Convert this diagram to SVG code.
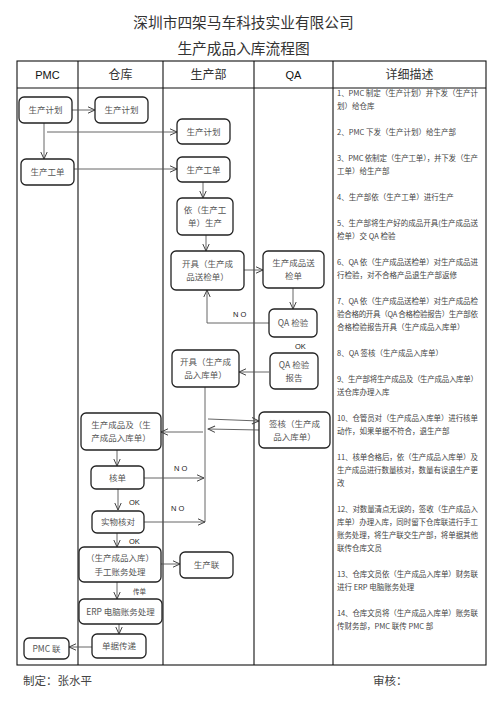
<svg xmlns="http://www.w3.org/2000/svg" width="496" height="702" viewBox="0 0 496 702">
<defs>
<marker id="arr" viewBox="0 0 8 8" refX="7.5" refY="4" markerWidth="8" markerHeight="8" markerUnits="userSpaceOnUse" orient="auto">
<path d="M0.5,0.8 L7.5,4 L0.5,7.2" fill="none" stroke="#444" stroke-width="1"/>
</marker>
</defs>
<style>
text{font-family:"Noto Sans CJK SC","Liberation Sans",sans-serif;}
.title{font-size:14.7px;fill:#333;text-anchor:middle;}
.hdr{font-size:12px;fill:#333;text-anchor:middle;}
.hdrl{font-size:11px;fill:#111;text-anchor:middle;font-family:"Liberation Sans",sans-serif;}
.grid{stroke:#111;stroke-width:1.1;fill:none;}
.box{fill:#fff;stroke:#222;stroke-width:1.3;}
.nt{font-size:8.5px;fill:#555;text-anchor:middle;}
.desc{font-size:7.5px;fill:#444;}
.lbl{font-size:7.5px;fill:#222;font-family:"Liberation Sans",sans-serif;}
.conn{stroke:#555;stroke-width:0.9;fill:none;}
.foot{font-size:11.5px;fill:#444;}
</style>
<text class="title" x="243.5" y="28">深圳市四架马车科技实业有限公司</text>
<text class="title" x="243.5" y="54">生产成品入库流程图</text>
<g id="table">
<rect class="grid" x="17" y="61" width="469" height="604"/>
<line class="grid" x1="17" y1="88" x2="486" y2="88"/>
<line class="grid" x1="78" y1="61" x2="78" y2="665"/>
<line class="grid" x1="163" y1="61" x2="163" y2="665"/>
<line class="grid" x1="254" y1="61" x2="254" y2="665"/>
<line class="grid" x1="333" y1="61" x2="333" y2="665"/>
<text class="hdrl" x="47.5" y="78.5">PMC</text>
<text class="hdr" x="120.5" y="79">仓库</text>
<text class="hdr" x="208.5" y="79">生产部</text>
<text class="hdrl" x="293.5" y="78.5">QA</text>
<text class="hdr" x="409.5" y="79">详细描述</text>
</g>
<g id="connectors">
<line class="conn" x1="72" y1="110" x2="95" y2="110" marker-end="url(#arr)"/>
<line class="conn" x1="44" y1="123" x2="44" y2="159" marker-end="url(#arr)"/>
<line class="conn" x1="47" y1="132" x2="177" y2="132" marker-end="url(#arr)"/>
<line class="conn" x1="74" y1="169" x2="177" y2="169" marker-end="url(#arr)"/>
<line class="conn" x1="203" y1="182" x2="203" y2="198" marker-end="url(#arr)"/>
<line class="conn" x1="206" y1="235" x2="206" y2="251" marker-end="url(#arr)"/>
<line class="conn" x1="244" y1="270" x2="263" y2="270" marker-end="url(#arr)"/>
<line class="conn" x1="293" y1="288" x2="293" y2="309" marker-end="url(#arr)"/>
<polyline class="conn" points="269,323 207,323 207,290" marker-end="url(#arr)"/>
<line class="conn" x1="269" y1="372" x2="239" y2="372" marker-end="url(#arr)"/>
<line class="conn" x1="205" y1="387" x2="205" y2="522"/>
<line class="conn" x1="208" y1="419" x2="259" y2="421" marker-end="url(#arr)"/>
<line class="conn" x1="259" y1="430" x2="208" y2="429" marker-end="url(#arr)"/>
<line class="conn" x1="203" y1="432" x2="161" y2="432" marker-end="url(#arr)"/>
<line class="conn" x1="117" y1="450" x2="117" y2="466" marker-end="url(#arr)"/>
<line class="conn" x1="144" y1="478" x2="204" y2="478" marker-end="url(#arr)"/>
<line class="conn" x1="118" y1="489" x2="118" y2="510" marker-end="url(#arr)"/>
<line class="conn" x1="144" y1="522" x2="205" y2="522" marker-end="url(#arr)"/>
<line class="conn" x1="117" y1="533" x2="117" y2="547" marker-end="url(#arr)"/>
<line class="conn" x1="161" y1="564" x2="180" y2="564" marker-end="url(#arr)"/>
<line class="conn" x1="117" y1="582" x2="117" y2="599" marker-end="url(#arr)"/>
<line class="conn" x1="119" y1="624" x2="119" y2="634" marker-end="url(#arr)"/>
<line class="conn" x1="92" y1="647" x2="69" y2="647" marker-end="url(#arr)"/>
<text class="lbl" x="233" y="317">N O</text>
<text class="lbl" x="295" y="349">OK</text>
<text class="lbl" x="174" y="471">N O</text>
<text class="lbl" x="129" y="505">OK</text>
<text class="lbl" x="171" y="511">N O</text>
<text class="lbl" x="129" y="544">OK</text>
<text class="desc" x="133" y="594" style="font-size:6.5px">传单</text>
</g>
<g id="n-pmc-plan"><rect class="box" x="19" y="97" width="53" height="26" rx="5"/><text class="nt" x="45.5" y="113">生产计划</text></g>
<g id="n-pmc-order"><rect class="box" x="21" y="159" width="53" height="26" rx="5"/><text class="nt" x="47.5" y="175">生产工单</text></g>
<g id="n-pmc-copy"><rect class="box" x="24" y="638" width="45" height="21" rx="5"/><text class="nt" x="46.5" y="651.5">PMC 联</text></g>
<g id="n-wh-plan"><rect class="box" x="95" y="97" width="53" height="26" rx="5"/><text class="nt" x="121.5" y="113">生产计划</text></g>
<g id="n-wh-goods"><rect class="box" x="81" y="413" width="80" height="37" rx="5"/><text class="nt" x="121" y="428">生产成品及（生</text><text class="nt" x="121" y="441">产成品入库单）</text></g>
<g id="n-wh-check"><rect class="box" x="91" y="466" width="53" height="23" rx="5"/><text class="nt" x="117.5" y="480.5">核单</text></g>
<g id="n-wh-verify"><rect class="box" x="92" y="511" width="52" height="22" rx="5"/><text class="nt" x="118" y="525">实物核对</text></g>
<g id="n-wh-manual"><rect class="box" x="79" y="547" width="82" height="35" rx="5"/><text class="nt" x="120" y="561">（生产成品入库）</text><text class="nt" x="120" y="575">手工账务处理</text></g>
<g id="n-wh-erp"><rect class="box" x="79" y="599" width="83" height="25" rx="5"/><text class="nt" x="120.5" y="614.5">ERP 电脑账务处理</text></g>
<g id="n-wh-pass"><rect class="box" x="92" y="634" width="54" height="24" rx="5"/><text class="nt" x="119" y="649">单据传递</text></g>
<g id="n-pd-plan"><rect class="box" x="177" y="119" width="53" height="25" rx="5"/><text class="nt" x="203.5" y="134.5">生产计划</text></g>
<g id="n-pd-order"><rect class="box" x="177" y="157" width="53" height="25" rx="5"/><text class="nt" x="203.5" y="172.5">生产工单</text></g>
<g id="n-pd-produce"><rect class="box" x="177" y="198" width="56" height="37" rx="5"/><text class="nt" x="205" y="213">依（生产工</text><text class="nt" x="205" y="226">单）生产</text></g>
<g id="n-pd-inspect"><rect class="box" x="171" y="251" width="73" height="39" rx="5"/><text class="nt" x="207.5" y="267">开具（生产成</text><text class="nt" x="207.5" y="280">品送检单）</text></g>
<g id="n-pd-storage"><rect class="box" x="172" y="350" width="67" height="37" rx="5"/><text class="nt" x="205.5" y="365">开具（生产成</text><text class="nt" x="205.5" y="378">品入库单）</text></g>
<g id="n-pd-copy"><rect class="box" x="180" y="552" width="53" height="26" rx="5"/><text class="nt" x="206.5" y="568">生产联</text></g>
<g id="n-qa-sheet"><rect class="box" x="263" y="251" width="61" height="37" rx="5"/><text class="nt" x="293.5" y="266">生产成品送</text><text class="nt" x="293.5" y="279">检单</text></g>
<g id="n-qa-check"><rect class="box" x="269" y="309" width="48" height="28" rx="5"/><text class="nt" x="293" y="326">QA 检验</text></g>
<g id="n-qa-report"><rect class="box" x="270" y="353" width="48" height="36" rx="5"/><text class="nt" x="294" y="368">QA 检验</text><text class="nt" x="294" y="381">报告</text></g>
<g id="n-qa-sign"><rect class="box" x="259" y="412" width="71" height="36" rx="5"/><text class="nt" x="294.5" y="427">签核（生产成</text><text class="nt" x="294.5" y="440">品入库单）</text></g>
<g id="description">
<text class="desc" x="337" y="95.5" textLength="141">1、PMC 制定（生产计划）并下发（生产计</text>
<text class="desc" x="337" y="108.5">划）给仓库</text>
<text class="desc" x="337" y="134.5">2、PMC 下发（生产计划）给生产部</text>
<text class="desc" x="337" y="160.5" textLength="141">3、PMC 依制定（生产工单），并下发（生产</text>
<text class="desc" x="337" y="173.5">工单）给生产部</text>
<text class="desc" x="337" y="199.5">4、生产部依（生产工单）进行生产</text>
<text class="desc" x="337" y="225.5" textLength="141">5、生产部将生产好的成品开具(生产成品送</text>
<text class="desc" x="337" y="238.5">检单）交 QA 检验</text>
<text class="desc" x="337" y="264.5" textLength="141">6、QA 依（生产成品送检单）对生产成品进</text>
<text class="desc" x="337" y="277.5">行检验，对不合格产品退生产部返修</text>
<text class="desc" x="337" y="303.5" textLength="141">7、QA 依（生产成品送检单）对生产成品检</text>
<text class="desc" x="337" y="316.5" textLength="141">验合格的开具（QA 合格检验报告）生产部依</text>
<text class="desc" x="337" y="329.5">合格检验报告开具（生产成品入库单）</text>
<text class="desc" x="337" y="355.5">8、QA 签核（生产成品入库单）</text>
<text class="desc" x="337" y="381.5" textLength="141">9、生产部将生产成品及（生产成品入库单）</text>
<text class="desc" x="337" y="394.5">送仓库办理入库</text>
<text class="desc" x="337" y="420.5" textLength="141">10、仓管员对（生产成品入库单）进行核单</text>
<text class="desc" x="337" y="433.5">动作，如果单据不符合，退生产部</text>
<text class="desc" x="337" y="459.5" textLength="141">11、核单合格后，依（生产成品入库单）及</text>
<text class="desc" x="337" y="472.5" textLength="141">生产成品进行数量核对，数量有误退生产更</text>
<text class="desc" x="337" y="485.5">改</text>
<text class="desc" x="337" y="511.5" textLength="141">12、对数量清点无误的，签收（生产成品入</text>
<text class="desc" x="337" y="524.5" textLength="141">库单）办理入库，同时留下仓库联进行手工</text>
<text class="desc" x="337" y="537.5" textLength="141">账务处理，将生产联交生产部，将单据其他</text>
<text class="desc" x="337" y="550.5">联传仓库文员</text>
<text class="desc" x="337" y="576.5" textLength="141">13、仓库文员依（生产成品入库单）财务联</text>
<text class="desc" x="337" y="589.5">进行 ERP 电脑账务处理</text>
<text class="desc" x="337" y="615.5" textLength="141">14、仓库文员将（生产成品入库单）账务联</text>
<text class="desc" x="337" y="628.5">传财务部，PMC 联传 PMC 部</text>
</g>
<text class="foot" x="23" y="685">制定：张水平</text>
<text class="foot" x="373" y="685">审核：</text>
</svg>
